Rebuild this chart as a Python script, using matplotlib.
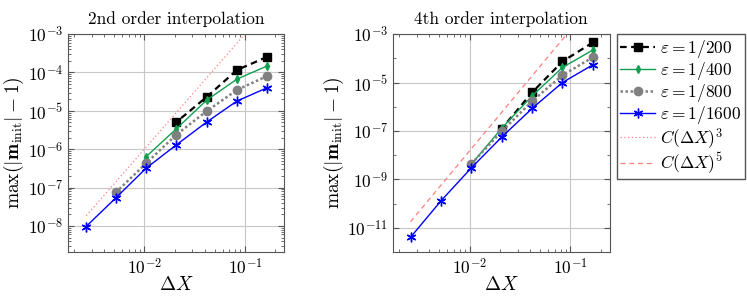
import numpy as np
import matplotlib
matplotlib.use("Agg")
import matplotlib.pyplot as plt
from matplotlib.ticker import LogLocator, NullFormatter

plt.rcParams['font.family'] = 'cmr10'
plt.rcParams['mathtext.fontset'] = 'cm'
plt.rcParams['axes.formatter.use_mathtext'] = True
plt.rcParams['axes.unicode_minus'] = False

# grid spacings 1/6 ... 1/384
dx = np.array([1/6, 1/12, 1/24, 1/48, 1/96, 1/192, 1/384])

# 2nd order interpolation
err2_200 = [2.55e-4, 1.16e-4, 2.3e-5, 5.1e-6]
err2_400 = [1.48e-4, 6.7e-5, 1.9e-5, 3.4e-6, 6.4e-7]
err2_800 = [8.1e-5, 3.5e-5, 9.8e-6, 2.4e-6, 4.3e-7, 7.5e-8]
err2_1600 = [4.0e-5, 1.8e-5, 5.1e-6, 1.3e-6, 3.2e-7, 5.4e-8, 9.4e-9]

# 4th order interpolation
err4_200 = [4.5e-4, 7.4e-5, 3.9e-6, 1.25e-7]
err4_400 = [2.2e-4, 4.2e-5, 2.8e-6, 1.3e-7, 4.2e-9]
err4_800 = [1.1e-4, 2.0e-5, 1.7e-6, 9.6e-8, 4.4e-9]
err4_1600 = [5.4e-5, 1.0e-5, 8.5e-7, 5.6e-8, 3.0e-9, 1.3e-10, 4.1e-12]

C3 = 1.0
C5 = 150.0

labels = [r'$\varepsilon = 1/200$', r'$\varepsilon = 1/400$',
          r'$\varepsilon = 1/800$', r'$\varepsilon = 1/1600$']

green = '#10a050'
ref_col = '#ff7f7f'


def draw(ax, series, ref_c, ref_p, ref_ls, ref_label):
    styles = [
        dict(color='black', ls=(0, (3, 2)), lw=1.6, marker='s', ms=6),
        dict(color=green, ls='-', lw=1.0, marker='d', ms=4),
        dict(color='#808080', ls=(0, (1, 1)), lw=1.8, marker='o', ms=6),
        dict(color='#0000ff', ls='-', lw=1.0, marker=(6, 2, 0), ms=7, mew=1.0),
    ]
    handles = []
    for vals, st, lab in zip(series, styles, labels):
        h, = ax.plot(dx[:len(vals)], vals, label=lab, **st)
        handles.append(h)
    r, = ax.plot(dx, ref_c * dx**ref_p, color=ref_col, ls=ref_ls, lw=0.9,
                 label=ref_label)
    ax.set_xscale('log')
    ax.set_yscale('log')
    ax.set_xlim(1.74e-3, 0.244)
    ax.set_xticks([1e-2, 1e-1])
    ax.grid(True, which='major', color='#c8c8c8', lw=0.8)
    ax.set_axisbelow(True)
    ax.tick_params(which='both', direction='in', top=True, right=True,
                   labelsize=12.5, color='#555555')
    ax.tick_params(which='major', length=4)
    ax.tick_params(which='minor', length=2)
    for s in ax.spines.values():
        s.set_color('#555555')
    ax.set_xlabel(r'$\Delta X$', fontsize=14, labelpad=-1)
    ax.set_ylabel(r'$\max(|\mathbf{m}_{\mathrm{init}}| - 1)$', fontsize=14,
                  labelpad=1)
    return handles, r


fig = plt.figure(figsize=(7.47, 2.99), dpi=100)
ax1 = fig.add_axes([0.091, 0.157, 0.289, 0.729])
ax2 = fig.add_axes([0.526, 0.157, 0.290, 0.729])

h1, r3 = draw(ax1, [err2_200, err2_400, err2_800, err2_1600], C3, 3, (0, (1, 2)),
              r'$C(\Delta X)^3$')
ax1.set_ylim(10**-8.68, 1e-3)
ax1.set_yticks([1e-3, 1e-4, 1e-5, 1e-6, 1e-7, 1e-8])
ax1.set_title('2nd order interpolation', fontsize=12.5, pad=7)

h2, r5 = draw(ax2, [err4_200, err4_400, err4_800, err4_1600], C5, 5, (0, (4, 3)),
              r'$C(\Delta X)^5$')
ax2.set_ylim(1e-12, 1e-3)
ax2.set_yticks([1e-3, 1e-5, 1e-7, 1e-9, 1e-11])
ax2.yaxis.set_minor_locator(LogLocator(base=10, subs=(1.0,), numticks=20))
ax2.yaxis.set_minor_formatter(NullFormatter())
ax2.set_title('4th order interpolation', fontsize=12.5, pad=7)

fig.legend(h2 + [r3, r5], [h.get_label() for h in h2] + [r3.get_label(), r5.get_label()],
           loc='upper left', bbox_to_anchor=(0.826, 0.885), fontsize=12.5,
           frameon=True, fancybox=False, edgecolor='#555555', framealpha=1,
           handlelength=2.0, handletextpad=0.3, borderpad=0.2, labelspacing=0.0,
           borderaxespad=0)

fig.savefig('out.png', dpi=100)
